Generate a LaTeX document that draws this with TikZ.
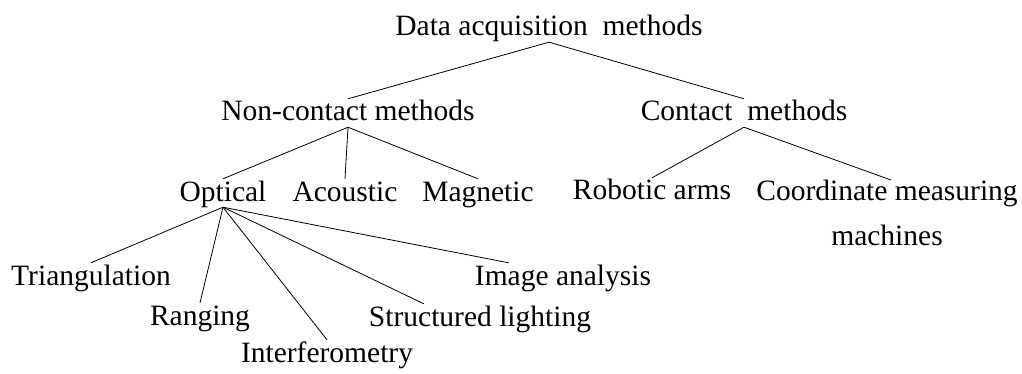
\documentclass[tikz,border=0pt]{standalone}
\usepackage{fontspec}
\setmainfont{Liberation Serif}
\usetikzlibrary{positioning}

\begin{document}
\begin{tikzpicture}[x=1pt,y=-1pt,font=\fontsize{29.5}{45}\selectfont,
        every node/.style={inner sep=0pt,text height=22pt,text depth=6pt,anchor=base},
        link/.style={line width=0.8pt}]
        \useasboundingbox (0,0) rectangle (1022,374);
        \node (data) at (549,36) {Data acquisition\ \ methods};
        \node (nonc) at (348,121) {Non-contact methods};
        \node (cont) at (744,121) {Contact\ \ methods};
        \node (opt) at (223,201) {Optical};
        \node (acou) at (345,201) {Acoustic};
        \node (magn) at (478,201) {Magnetic};
        \node (robo) at (652,200) {Robotic arms};
        \node[align=center,anchor=north,text height=,text depth=] (cmm) at (887,180) {Coordinate measuring\\machines};
        \node (tri) at (91,285) {Triangulation};
        \node (rang) at (200,325) {Ranging};
        \node (intf) at (327,362) {Interferometry};
        \node (stru) at (480,326) {Structured lighting};
        \node (img) at (563,285) {Image analysis};
        \draw[link] (data.south) -- (nonc.north);
        \draw[link] (data.south) -- (cont.north);
        \draw[link] (nonc.south) -- (opt.north);
        \draw[link] (nonc.south) -- (acou.north);
        \draw[link] (nonc.south) -- (magn.north);
        \draw[link] (cont.south) -- (robo.north);
        \draw[link] (cont.south) -- ([xshift=4pt]cmm.north);
        \draw[link] (opt.south) -- (tri.north);
        \draw[link] (opt.south) -- (rang.north);
        \draw[link] (opt.south) -- (intf.north);
        \draw[link] (opt.south) -- ([xshift=55pt]stru.north west);
        \draw[link] (opt.south) -- ([xshift=34pt]img.north west);
      \end{tikzpicture}
\end{document}
